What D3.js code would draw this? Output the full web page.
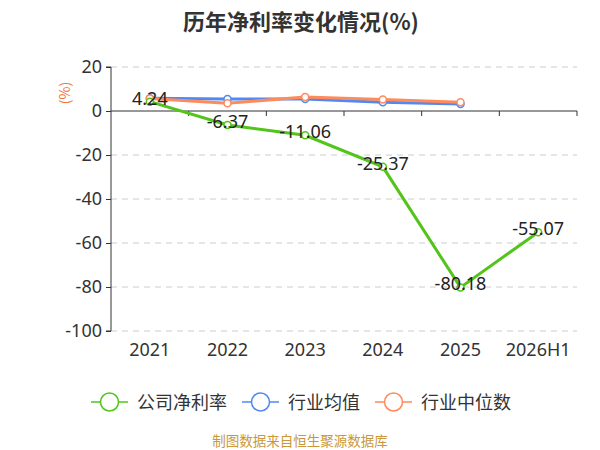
<!DOCTYPE html>
<html>
<head>
<meta charset="utf-8">
<script src="https://cdn.jsdelivr.net/npm/d3@7/dist/d3.min.js"></script>
<style>
  body { margin: 0; background: #fff; }
  svg { font-family: "Noto Sans CJK SC", "Noto Sans", sans-serif; }
</style>
</head>
<body>
<svg id="chart" width="600" height="450"></svg>
<script>
// 数据
const years = ['2021', '2022', '2023', '2024', '2025', '2026H1'];
const companyRate = [4.24, -6.37, -11.06, -25.37, -80.18, -55.07];
const industryAvg = [5.8, 5.5, 5.5, 4.0, 3.2];
const industryMedian = [5.7, 3.5, 6.4, 5.2, 4.0];
const yTicks = [20, 0, -20, -40, -60, -80, -100];
const seriesNames = ['公司净利率', '行业均值', '行业中位数'];
const seriesColors = ['#52c41a', '#5189f2', '#ff8a5b'];

const svg = d3.select('#chart');
const plotLeft = 111, plotRight = 577, plotTop = 67, plotBottom = 331;
const numFont = '"Noto Sans", sans-serif';

const x = d3.scaleBand().domain(years).range([plotLeft, plotRight]);
const y = d3.scaleLinear().domain([-100, 20]).range([plotBottom, plotTop]);

// 标题
svg.append('text')
    .attr('x', 301).attr('y', 30)
    .attr('text-anchor', 'middle')
    .attr('font-size', 22).attr('font-weight', 'bold')
    .attr('fill', '#333')
    .text('历年净利率变化情况(%)');

// 网格线
svg.append('g').selectAll('line')
    .data(yTicks.filter(d => d !== 0))
    .join('line')
    .attr('x1', plotLeft).attr('x2', plotRight)
    .attr('y1', d => y(d)).attr('y2', d => y(d))
    .attr('stroke', '#ccc').attr('stroke-dasharray', '6,5');

// Y轴
const yAxis = svg.append('g')
    .attr('transform', `translate(${plotLeft},0)`)
    .call(d3.axisLeft(y).tickValues(yTicks).tickSize(5).tickPadding(4)
        .tickFormat(d => String(d)));
yAxis.select('.domain').attr('stroke', '#333').attr('d', `M-5,${plotTop}H0V${plotBottom}H-5`);
yAxis.selectAll('.tick line').attr('stroke', '#333');
yAxis.selectAll('.tick text').attr('font-size', 18).attr('fill', '#333')
    .attr('font-family', numFont);

// Y轴单位
svg.append('text')
    .attr('transform', 'translate(70,93) rotate(-90)')
    .attr('text-anchor', 'middle')
    .attr('font-size', 14).attr('fill', '#f0703a')
    .text('(%)');

// X轴（零线）
const xAxis = svg.append('g')
    .attr('transform', `translate(0,${y(0)})`);
xAxis.append('line')
    .attr('x1', plotLeft).attr('x2', plotRight)
    .attr('stroke', '#333');
xAxis.selectAll('.xtick')
    .data(years.slice(1).map(d => x(d)).concat([plotRight]))
    .join('line')
    .attr('x1', d => d).attr('x2', d => d)
    .attr('y1', 0).attr('y2', 5)
    .attr('stroke', '#333');

svg.append('g').selectAll('text')
    .data(years)
    .join('text')
    .attr('x', d => x(d) + x.bandwidth() / 2)
    .attr('y', 356)
    .attr('text-anchor', 'middle')
    .attr('font-size', 18).attr('fill', '#333')
    .attr('font-family', numFont)
    .text(d => d);

const cx = i => x(years[i]) + x.bandwidth() / 2;
const line = d3.line().x((d, i) => cx(i)).y(d => y(d));

function drawSeries(values, color) {
    svg.append('path')
        .datum(values)
        .attr('d', line)
        .attr('fill', 'none')
        .attr('stroke', color)
        .attr('stroke-width', 3);
    svg.append('g').selectAll('circle')
        .data(values)
        .join('circle')
        .attr('cx', (d, i) => cx(i)).attr('cy', d => y(d))
        .attr('r', 3.5)
        .attr('fill', '#fff')
        .attr('stroke', color)
        .attr('stroke-width', 1.5);
}

drawSeries(industryAvg, seriesColors[1]);
drawSeries(industryMedian, seriesColors[2]);
drawSeries(companyRate, seriesColors[0]);

// 数据标签
svg.append('g').selectAll('text')
    .data(companyRate)
    .join('text')
    .attr('x', (d, i) => cx(i))
    .attr('y', d => y(d) + 3)
    .attr('text-anchor', 'middle')
    .attr('font-size', 18).attr('fill', '#222')
    .attr('font-family', numFont)
    .text(d => d.toFixed(2));

// 图例
const legendX = [91, 242, 375];
const legend = svg.append('g').selectAll('g')
    .data(seriesNames)
    .join('g')
    .attr('transform', (d, i) => `translate(${legendX[i]},402)`);
legend.append('line')
    .attr('x1', 0).attr('x2', 37)
    .attr('stroke', (d, i) => seriesColors[i]).attr('stroke-width', 1.5);
legend.append('circle')
    .attr('cx', 18.5).attr('r', 9)
    .attr('fill', '#fff')
    .attr('stroke', (d, i) => seriesColors[i]).attr('stroke-width', 1.5);
legend.append('text')
    .attr('x', 46).attr('y', 6.5)
    .attr('font-size', 18).attr('fill', '#333')
    .text(d => d);

// 数据来源
svg.append('text')
    .attr('x', 300).attr('y', 446)
    .attr('text-anchor', 'middle')
    .attr('font-size', 13.5).attr('fill', '#c9983a')
    .text('制图数据来自恒生聚源数据库');
</script>
</body>
</html>
